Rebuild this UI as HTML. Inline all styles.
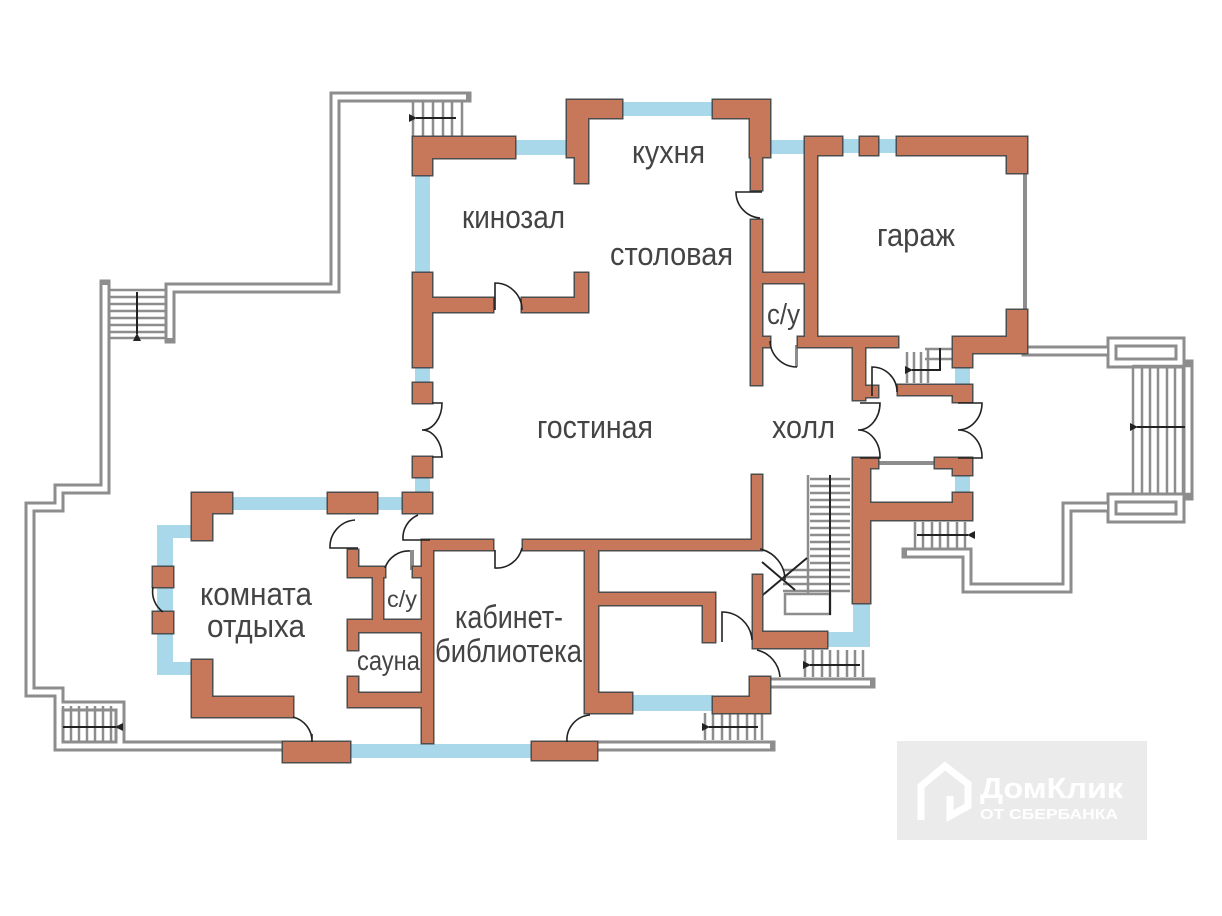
<!DOCTYPE html>
<html><head><meta charset="utf-8"><style>
html,body{margin:0;padding:0;background:#fff;}
svg{display:block;}
</style></head><body>
<svg width="1222" height="916" viewBox="0 0 1222 916" xmlns="http://www.w3.org/2000/svg" font-family="Liberation Sans, sans-serif">
<defs>
<marker id="al" markerWidth="8" markerHeight="8" refX="1" refY="4" orient="auto-start-reverse" markerUnits="userSpaceOnUse"><path d="M0,4 L8,0 L8,8 Z" fill="#222"/></marker>
<g id="W">
<rect x="413" y="137" width="102" height="21"/>
<rect x="413" y="137" width="19" height="38"/>
<rect x="567" y="100" width="55" height="18"/>
<rect x="567" y="100" width="21" height="57"/>
<rect x="575" y="157" width="13" height="26"/>
<rect x="713" y="100" width="57" height="18"/>
<rect x="750" y="100" width="20" height="57"/>
<rect x="751" y="157" width="11" height="33"/>
<rect x="751" y="220" width="11" height="165"/>
<rect x="805" y="137" width="37" height="18"/>
<rect x="805" y="137" width="12" height="203"/>
<rect x="860" y="137" width="18" height="18"/>
<rect x="897" y="137" width="130" height="18"/>
<rect x="1007" y="137" width="20" height="36"/>
<rect x="1007" y="310" width="20" height="43"/>
<rect x="953" y="337" width="74" height="16"/>
<rect x="953" y="337" width="19" height="30"/>
<rect x="798" y="337" width="100" height="10"/>
<rect x="751" y="273" width="64" height="10"/>
<rect x="751" y="337" width="19" height="10"/>
<rect x="853" y="337" width="12" height="63"/>
<rect x="853" y="386" width="25" height="11"/>
<rect x="898" y="385" width="74" height="10"/>
<rect x="953" y="385" width="19" height="17"/>
<rect x="853" y="458" width="25" height="10"/>
<rect x="935" y="458" width="37" height="10"/>
<rect x="953" y="458" width="19" height="17"/>
<rect x="853" y="503" width="119" height="17"/>
<rect x="953" y="493" width="19" height="27"/>
<rect x="853" y="458" width="17" height="145"/>
<rect x="752" y="475" width="10" height="73"/>
<rect x="422" y="540" width="71" height="10"/>
<rect x="523" y="540" width="239" height="10"/>
<rect x="753" y="575" width="9" height="73"/>
<rect x="753" y="632" width="74" height="16"/>
<rect x="422" y="540" width="11" height="203"/>
<rect x="585" y="540" width="13" height="173"/>
<rect x="598" y="593" width="117" height="12"/>
<rect x="703" y="593" width="12" height="49"/>
<rect x="585" y="693" width="47" height="20"/>
<rect x="713" y="697" width="57" height="16"/>
<rect x="750" y="677" width="20" height="36"/>
<rect x="532" y="742" width="65" height="18"/>
<rect x="283" y="742" width="67" height="20"/>
<rect x="192" y="493" width="40" height="20"/>
<rect x="192" y="493" width="20" height="47"/>
<rect x="328" y="493" width="49" height="20"/>
<rect x="403" y="493" width="29" height="20"/>
<rect x="153" y="567" width="20" height="20"/>
<rect x="153" y="612" width="20" height="21"/>
<rect x="192" y="660" width="20" height="57"/>
<rect x="192" y="697" width="101" height="20"/>
<rect x="348" y="550" width="10" height="27"/>
<rect x="348" y="567" width="37" height="10"/>
<rect x="373" y="567" width="10" height="60"/>
<rect x="348" y="620" width="77" height="12"/>
<rect x="348" y="620" width="10" height="30"/>
<rect x="348" y="677" width="10" height="30"/>
<rect x="348" y="693" width="77" height="14"/>
<rect x="413" y="567" width="12" height="10"/>
<rect x="413" y="273" width="19" height="94"/>
<rect x="432" y="298" width="61" height="14"/>
<rect x="522" y="298" width="66" height="14"/>
<rect x="575" y="273" width="13" height="39"/>
<rect x="413" y="383" width="19" height="20"/>
<rect x="413" y="457" width="19" height="20"/>
</g>
<g id="T">
<path d="M466,97 L335,97 L335,288 L170,288 L170,338"/>
<path d="M105,285 L105,489 L59,489 L59,507 L30,507 L30,692 L59,692 L59,746 L285,746"/>
<path d="M59,706 L120,706 L120,746"/>
<path d="M597,746 L770,746"/>
<path d="M770,683 L870,683"/>
<path d="M1027,351 L1107,351"/>
<rect x="1112" y="342" width="68" height="21"/>
<rect x="1112" y="498" width="68" height="20"/>
<path d="M1107,507 L1067,507 L1067,588 L967,588 L967,553 L907,553"/>
<path d="M1188,365 L1188,495"/>
</g>
</defs>

<g fill="#a8d8ea">
<rect x="415" y="158" width="15" height="115"/>
<rect x="515" y="140" width="52" height="15"/>
<rect x="622" y="102" width="91" height="14"/>
<rect x="770" y="140" width="35" height="14"/>
<rect x="842" y="139" width="18" height="14"/>
<rect x="878" y="139" width="19" height="14"/>
<rect x="955" y="353" width="15" height="34"/>
<rect x="955" y="475" width="15" height="20"/>
<rect x="415" y="367" width="15" height="16"/>
<rect x="415" y="477" width="15" height="16"/>
<rect x="232" y="497" width="96" height="13"/>
<rect x="377" y="497" width="26" height="13"/>
<rect x="157" y="525" width="16" height="150"/>
<rect x="157" y="525" width="40" height="13"/>
<rect x="157" y="662" width="40" height="13"/>
<rect x="350" y="744" width="182" height="14"/>
<rect x="632" y="695" width="81" height="16"/>
<rect x="853" y="603" width="17" height="44"/>
<rect x="827" y="632" width="43" height="15"/>
</g>

<use href="#T" fill="none" stroke="#8d8d8d" stroke-width="11" stroke-linecap="square"/>
<use href="#T" fill="none" stroke="#ffffff" stroke-width="5" stroke-linecap="butt"/>

<g fill="#8d8d8d">
<rect x="1023" y="173" width="4" height="137"/>
<rect x="795" y="345" width="3" height="22"/>
<rect x="878" y="461" width="57" height="4"/>
<rect x="410" y="550" width="4" height="20"/>
</g>

<g stroke="#8d8d8d" stroke-width="2.5" fill="none">
<path d="M413,100V137M423,100V137M433,100V137M443,100V137M452,100V137M462,100V137"/>
<path d="M110,290H165M110,297H165M110,304H165M110,311H165M110,318H165M110,325H165M110,332H165M110,338H165"/>
<path d="M63,706V742M71,706V742M79,706V742M87,706V742M95,706V742M103,706V742M111,706V742"/>
<path d="M705,713V740M713,713V740M722,713V740M730,713V740M738,713V740M747,713V740M755,713V740M762,713V740"/>
<path d="M805,650V677M813,650V677M822,650V677M830,650V677M838,650V677M847,650V677M855,650V677M863,650V677"/>
<path d="M808,475V595"/>
<path d="M810,479H850M810,486H850M810,493H850M810,500H850M810,507H850M810,514H850M810,521H850M810,528H850M810,535H850M810,542H850M810,549H850M810,556H850M810,563H850M783,570H850M783,577H850M783,584H850M783,591H850"/>
<rect x="785" y="594" width="45" height="20"/>
<path d="M915,522V548M923,522V548M932,522V548M940,522V548M948,522V548M957,522V548M965,522V548"/>
<path d="M907,352V383M914,352V383M921,352V383M928,348V383M925,349H953M925,359H953"/>
<path d="M1133,365V495M1142,365V495M1150,365V495M1158,365V495M1167,365V495M1175,365V495M1183,365V495M1133,366H1193M1133,494H1193"/>
</g>
<g stroke="#222" stroke-width="2" fill="none">
<line x1="830" y1="475" x2="830" y2="615"/>
<path d="M940,348V370H912" marker-end="url(#al)"/>
<line x1="456" y1="118" x2="416" y2="118" marker-end="url(#al)"/>
<line x1="137" y1="292" x2="137" y2="334" marker-end="url(#al)"/>
<line x1="63" y1="727" x2="116" y2="727" marker-end="url(#al)"/>
<line x1="758" y1="727" x2="709" y2="727" marker-end="url(#al)"/>
<line x1="860" y1="665" x2="810" y2="665" marker-end="url(#al)"/>
<line x1="917" y1="535" x2="968" y2="535" marker-end="url(#al)"/>
<line x1="1185" y1="427" x2="1137" y2="427" marker-end="url(#al)"/>
<line x1="807" y1="558" x2="764" y2="594" marker-end="url(#al)"/>
<line x1="762" y1="562" x2="795" y2="590"/>
</g>

<use href="#W" fill="#4d4d4d" stroke="#4d4d4d" stroke-width="3"/>
<use href="#W" fill="#c8785a"/>

<g stroke="#222" stroke-width="1.6" fill="none">
<path d="M762,192 L736,192 A26,26 0 0 0 760,218"/>
<path d="M495,310 L495,283 A27,27 0 0 1 522,310"/>
<path d="M770,341 A27,27 0 0 0 797,367"/>
<path d="M872,396 L872,367 A25,25 0 0 1 897,392"/>
<path d="M860,403 L880,403 A22,27 0 0 1 858,430 M860,458 L880,458 A22,27 0 0 0 858,430"/>
<path d="M958,403 L982,403 A24,27 0 0 1 958,430 M958,458 L982,458 A24,27 0 0 0 958,430"/>
<path d="M432,403 L442,403 A20,27 0 0 1 422,430 M432,457 L442,457 A20,27 0 0 0 422,430"/>
<path d="M153,587 A25,25 0 0 0 163,612"/>
<path d="M293,717 A25,25 0 0 1 312,742 L312,734"/>
<path d="M358,548 L330,548 A27,27 0 0 1 355,520"/>
<path d="M430,540 L403,540 A25,25 0 0 1 418,515"/>
<path d="M385,568 A25,25 0 0 1 410,551"/>
<path d="M495,550 L495,568 A26,26 0 0 0 522,548"/>
<path d="M760,549 A32,32 0 0 1 785,580"/>
<path d="M722,642 L722,612 A30,30 0 0 1 752,640"/>
<path d="M757,650 A30,30 0 0 1 780,677"/>
<path d="M567,742 A25,25 0 0 1 590,715"/>
</g>

<g fill="#444" font-size="24">
<text transform="translate(462,228) scale(1,1.35)" textLength="103" lengthAdjust="spacingAndGlyphs">кинозал</text>
<text transform="translate(632,163) scale(1,1.35)" textLength="73" lengthAdjust="spacingAndGlyphs">кухня</text>
<text transform="translate(610,265) scale(1,1.35)" textLength="123" lengthAdjust="spacingAndGlyphs">столовая</text>
<text transform="translate(537,438) scale(1,1.35)" textLength="116" lengthAdjust="spacingAndGlyphs">гостиная</text>
<text transform="translate(772,438) scale(1,1.35)" textLength="63" lengthAdjust="spacingAndGlyphs">холл</text>
<text transform="translate(877,246) scale(1,1.35)" textLength="78" lengthAdjust="spacingAndGlyphs">гараж</text>
<text transform="translate(200,605) scale(1,1.35)" textLength="112" lengthAdjust="spacingAndGlyphs">комната</text>
<text transform="translate(207,637) scale(1,1.35)" textLength="98" lengthAdjust="spacingAndGlyphs">отдыха</text>
<text transform="translate(455,628) scale(1,1.35)" textLength="108" lengthAdjust="spacingAndGlyphs">кабинет-</text>
<text transform="translate(435,662) scale(1,1.35)" textLength="147" lengthAdjust="spacingAndGlyphs">библиотека</text>
<text transform="translate(357,670) scale(1,1.3)" font-size="21" textLength="63" lengthAdjust="spacingAndGlyphs">сауна</text>
<text transform="translate(767,324) scale(1,1.35)" font-size="21" textLength="33" lengthAdjust="spacingAndGlyphs">с/у</text>
<text transform="translate(387,607) scale(1,1.3)" font-size="18" textLength="30" lengthAdjust="spacingAndGlyphs">с/у</text>
</g>

<rect x="897" y="741" width="250" height="99" fill="#ebebeb"/>
<path d="M921,820 L921,786 L945,766 L968,784 L968,806 L950,816 L950,796" fill="none" stroke="#fff" stroke-width="7" stroke-linejoin="miter"/>
<text x="980" y="798" fill="#fff" font-size="29" font-weight="bold" textLength="143" lengthAdjust="spacingAndGlyphs">ДомКлик</text>
<text x="980" y="819" fill="#fff" font-size="15" font-weight="bold" textLength="138" lengthAdjust="spacingAndGlyphs">ОТ СБЕРБАНКА</text>
</svg>
</body></html>
